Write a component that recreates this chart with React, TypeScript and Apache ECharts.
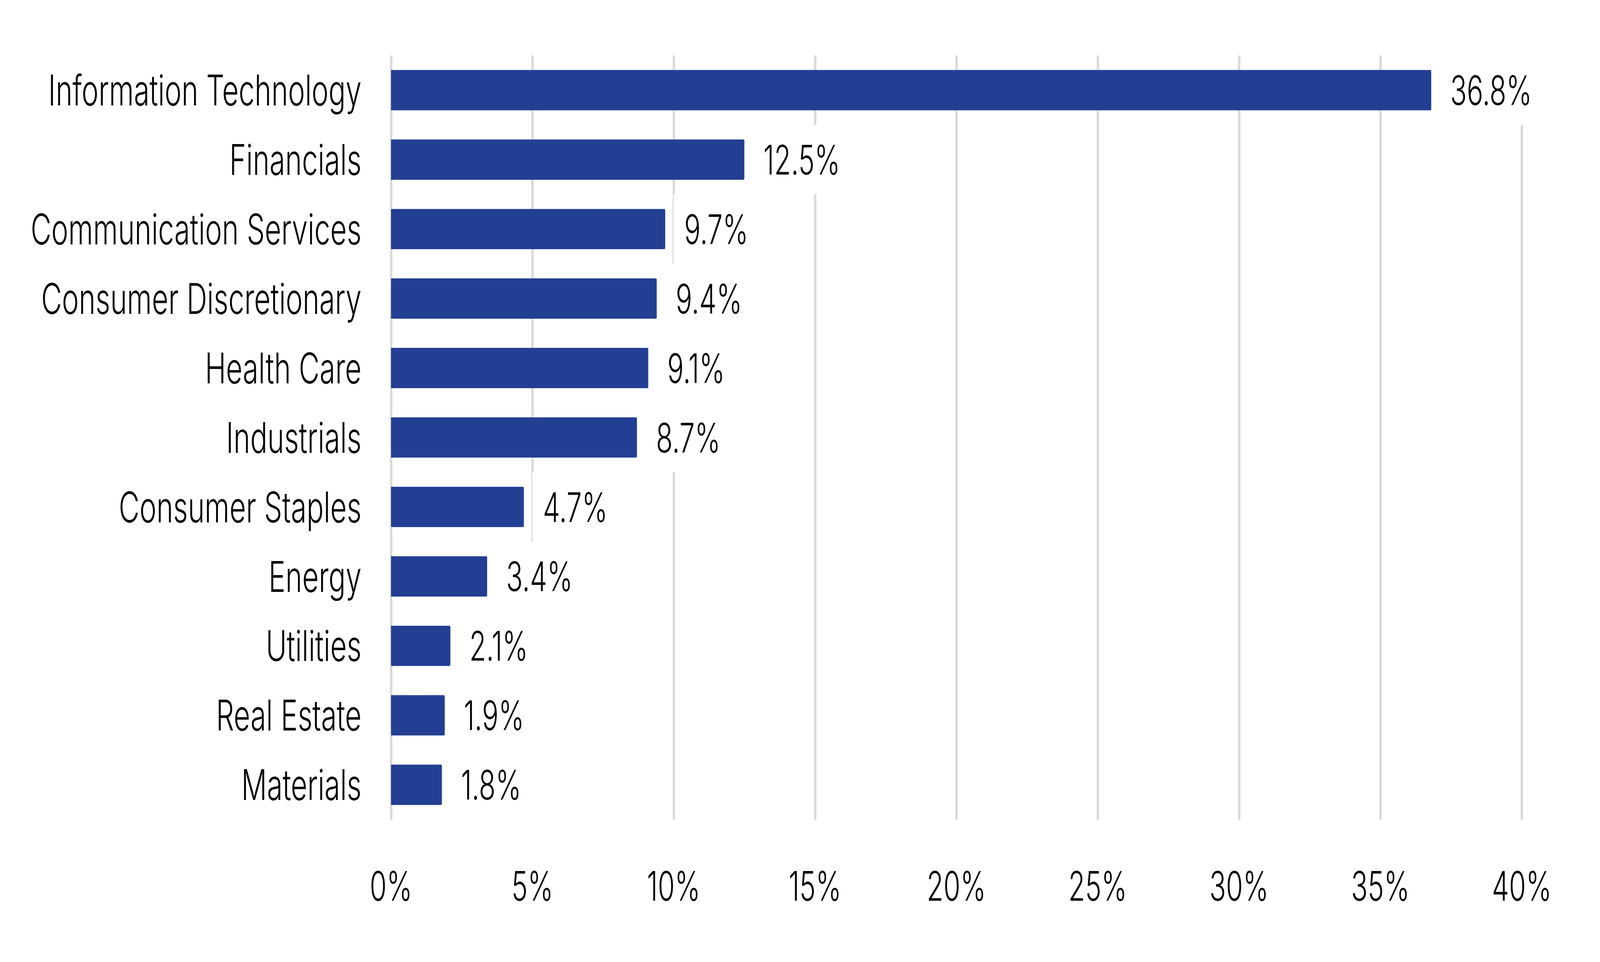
import { useEffect, useRef } from 'react'
import * as echarts from 'echarts'

// Sector weights, top to bottom as drawn.
const SECTORS = [
  'Information Technology',
  'Financials',
  'Communication Services',
  'Consumer Discretionary',
  'Health Care',
  'Industrials',
  'Consumer Staples',
  'Energy',
  'Utilities',
  'Real Estate',
  'Materials',
]
const WEIGHTS = [36.8, 12.5, 9.7, 9.4, 9.1, 8.7, 4.7, 3.4, 2.1, 1.9, 1.8]

const AXIS_MIN = 0
const AXIS_MAX = 40
const AXIS_STEP = 5

// Chart is laid out at the reference size and fitted to the window.
const CHART_W = 6068
const CHART_H = 2464

const BAR = '#233F93'
const GRID_LINE = '#D9D9D9'
const TEXT = '#000000'
const FONT = 'Inter'
const LABEL_SIZE = 108
const VALUE_SIZE = 104

export default function App() {
  const ref = useRef<HTMLDivElement>(null)

  useEffect(() => {
    const el = ref.current
    if (!el) return
    const chart = echarts.init(el, undefined, { renderer: 'svg' })
    chart.setOption({
      animation: false,
      backgroundColor: '#ffffff',
      textStyle: { fontFamily: FONT, fontWeight: 300 },
      grid: { left: 1483, top: 142, width: 4288, height: 1957, containLabel: false },
      xAxis: {
        type: 'value',
        min: AXIS_MIN,
        max: AXIS_MAX,
        interval: AXIS_STEP,
        axisLine: { show: false },
        axisTick: { show: false },
        axisLabel: {
          formatter: '{value}%',
          color: TEXT,
          fontSize: VALUE_SIZE,
          fontFamily: FONT,
          fontWeight: 300,
          margin: 118,
        },
        splitLine: { show: true, lineStyle: { color: GRID_LINE, width: 9 } },
      },
      yAxis: {
        type: 'category',
        inverse: true,
        data: SECTORS,
        axisLine: { show: false },
        axisTick: { show: false },
        axisLabel: {
          color: TEXT,
          fontSize: LABEL_SIZE,
          fontFamily: FONT,
          fontWeight: 300,
          margin: 112,
        },
      },
      series: [
        {
          type: 'bar',
          data: WEIGHTS,
          barCategoryGap: '42%',
          itemStyle: { color: BAR, borderRadius: [0, 4, 4, 0] },
          label: {
            show: true,
            position: 'right',
            distance: 32,
            formatter: (p: { value: number }) => `${p.value.toFixed(1)}%`,
            color: TEXT,
            fontSize: VALUE_SIZE,
            fontFamily: FONT,
            fontWeight: 300,
            lineHeight: VALUE_SIZE,
            // white box hides the gridlines behind each value, as in the source
            backgroundColor: '#ffffff',
            padding: [37, 60, 37, 40],
          },
        },
      ],
    })
    return () => chart.dispose()
  }, [])

  const sx = Math.min(1, window.innerWidth / CHART_W)
  const sy = Math.min(1, window.innerHeight / CHART_H)

  return (
    <div
      ref={ref}
      style={{
        position: 'fixed',
        left: 0,
        top: 0,
        width: CHART_W,
        height: CHART_H,
        background: '#fff',
        transform: `scale(${sx}, ${sy})`,
        transformOrigin: '0 0',
      }}
    />
  )
}
